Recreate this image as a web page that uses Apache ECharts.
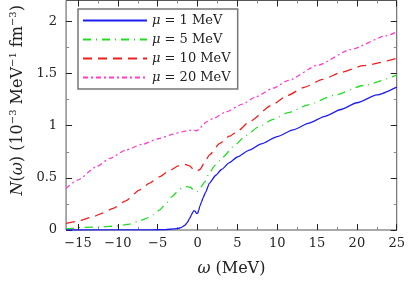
<!DOCTYPE html>
<html>
<head>
<meta charset="utf-8">
<script src="https://cdn.jsdelivr.net/npm/echarts@6/dist/echarts.min.js"></script>
<style>
html,body{margin:0;padding:0;background:#fff;}
#chart{width:408px;height:283px;}
</style>
</head>
<body>
<div id="chart"></div>
<script>
// ---- data ----
const seriesNames = ['μ = 1 MeV', 'μ = 5 MeV', 'μ = 10 MeV', 'μ = 20 MeV'];

const omega1 = [-16.5, -6, -4, -3, -2.4, -2, -1.6, -1.3, -1.0, -0.8, -0.6, -0.45, -0.3, -0.15, 0, 0.15, 0.3, 0.5, 0.7, 1.0, 1.5, 2.3, 3, 4, 5, 6.5, 8, 10, 12, 14, 16, 18, 20, 22.5, 25];
const n1     = [0, 0.001, 0.004, 0.01, 0.016, 0.026, 0.045, 0.07, 0.11, 0.14, 0.17, 0.185, 0.18, 0.16, 0.16, 0.19, 0.23, 0.27, 0.31, 0.36, 0.45, 0.525, 0.58, 0.645, 0.70, 0.766, 0.825, 0.895, 0.96, 1.025, 1.09, 1.155, 1.22, 1.295, 1.37];

const omega5 = [-16.5, -14.3, -12, -10.2, -8.5, -7.5, -6.5, -5.5, -4.8, -4, -3.2, -2.5, -2, -1.4, -0.9, -0.6, -0.3, 0, 0.4, 0.9, 1.5, 2.2, 3.2, 4.5, 6.05, 7.7, 9.5, 11.4, 13.9, 17.1, 20.8, 25];
const n5     = [0.01, 0.026, 0.03, 0.038, 0.057, 0.08, 0.11, 0.15, 0.19, 0.25, 0.32, 0.37, 0.40, 0.415, 0.41, 0.39, 0.367, 0.37, 0.41, 0.46, 0.55, 0.62, 0.70, 0.80, 0.905, 0.99, 1.06, 1.125, 1.20, 1.29, 1.385, 1.485];

const omega10 = [-16.5, -15, -13.1, -12, -10.6, -9, -7.3, -6, -4.8, -3.5, -2.4, -1.6, -1.0, -0.5, -0.1, 0.3, 0.9, 1.5, 2.8, 4, 5.2, 6.46, 9.3, 11.3, 13.4, 15.7, 18, 20.8, 25];
const n10     = [0.064, 0.085, 0.127, 0.16, 0.207, 0.28, 0.383, 0.45, 0.51, 0.57, 0.615, 0.63, 0.615, 0.58, 0.565, 0.58, 0.65, 0.72, 0.83, 0.90, 0.957, 1.037, 1.196, 1.29, 1.368, 1.443, 1.51, 1.575, 1.645];

const omega20 = [-16.5, -15, -12.7, -11, -9, -7, -4.8, -3, -2, -1, -0.6, -0.2, 0.2, 0.6, 1.1, 2, 3.5, 5.64, 7.3, 9.5, 11.4, 15.1, 19.2, 23.7, 25];
const n20     = [0.40, 0.48, 0.606, 0.686, 0.766, 0.82, 0.877, 0.92, 0.94, 0.955, 0.962, 0.95, 0.965, 1.0, 1.036, 1.07, 1.13, 1.206, 1.276, 1.36, 1.435, 1.58, 1.73, 1.862, 1.90];

const xTicks = [-15, -10, -5, 0, 5, 10, 15, 20, 25];
const xMinorTicks = [-12.5, -7.5, -2.5, 2.5, 7.5, 12.5, 17.5, 22.5];
const yTicks = [0, 0.5, 1, 1.5, 2];
const yMinorTicks = [0.25, 0.75, 1.25, 1.75];

// ---- chart ----
const FONT = 'DejaVu Serif';
function zip(xs, ys) { return xs.map((x, i) => [x, ys[i]]); }
function fmtNum(v) {
  const s = String(Math.round(v * 100) / 100);
  return v < 0 ? '−' + s.slice(1) : s;
}
const colors = ['#1c1cf0', '#22dd22', '#f02020', '#ff3fcc'];
const dashes = ['solid', [8, 5, 1, 5], [9, 6], [5, 3, 2, 3]];

function axisPair(kind, min, max, ticks, minorTicks, position, showLabels) {
  const common = { type: 'value', min: min, max: max, position: position, splitLine: { show: false } };
  const a = Object.assign({}, common, {
    axisLine: { show: false, onZero: false },
    axisTick: { show: true, inside: true, length: 6, customValues: ticks, lineStyle: { color: '#222', width: 1 } },
    axisLabel: {
      show: showLabels, margin: kind === 'x' ? 7 : 9, color: '#222', fontFamily: FONT, fontSize: 13,
      customValues: ticks,
      formatter: v => fmtNum(v)
    }
  });
  const b = Object.assign({}, common, {
    axisLine: { show: false, onZero: false },
    axisTick: { show: true, inside: true, length: 3, customValues: minorTicks, lineStyle: { color: '#888', width: 1 } },
    axisLabel: { show: false }
  });
  return [a, b];
}

const xAxes = [].concat(
  axisPair('x', -16.5, 25, xTicks, xMinorTicks, 'bottom', true),
  axisPair('x', -16.5, 25, xTicks, xMinorTicks, 'top', false)
);
xAxes[0].name = '{i|ω} (MeV)';
xAxes[0].nameLocation = 'middle';
xAxes[0].nameGap = 31;
xAxes[0].nameTextStyle = { fontFamily: FONT, fontSize: 16, color: '#222',
  rich: { i: { fontFamily: FONT, fontStyle: 'italic', fontSize: 16, color: '#222' } } };

const yAxes = [].concat(
  axisPair('y', 0, 2.2, yTicks, yMinorTicks, 'left', true),
  axisPair('y', 0, 2.2, yTicks, yMinorTicks, 'right', false)
);
yAxes[0].name = '{i|N}({i|ω}) (10{s|−3} MeV{s|−1} fm{s|−3})';
yAxes[0].nameLocation = 'middle';
yAxes[0].nameGap = 33;
yAxes[0].nameTextStyle = { fontFamily: FONT, fontSize: 16, color: '#222', padding: [0, 0, 0, 30],
  rich: {
    i: { fontFamily: FONT, fontStyle: 'italic', fontSize: 16, color: '#222' },
    s: { fontFamily: FONT, fontSize: 10, color: '#222', padding: [0, 0, 9, 0] }
  } };

const allX = [omega1, omega5, omega10, omega20];
const allY = [n1, n5, n10, n20];

const series = seriesNames.map((name, k) => ({
  name: name,
  type: 'line',
  xAxisIndex: 0,
  yAxisIndex: 0,
  data: zip(allX[k], allY[k]),
  showSymbol: false,
  symbol: 'none',
  smooth: 0.2,
  smoothMonotone: 'x',
  z: 10 - k,
  lineStyle: { color: colors[k], width: 1.3, type: dashes[k] },
  itemStyle: { color: colors[k] }
}));

const chart = echarts.init(document.getElementById('chart'), null, { renderer: 'canvas' });
chart.setOption({
  animation: false,
  backgroundColor: '#fff',
  grid: { left: 60, right: 11, top: 0.5, bottom: 53, show: true, borderColor: '#555', borderWidth: 1, backgroundColor: 'transparent' },
  xAxis: xAxes,
  yAxis: yAxes,
  legend: {
    orient: 'vertical', left: 78, top: 9,
    itemWidth: 64, itemHeight: 14, itemGap: 6,
    padding: [5, 7, 5, 4],
    borderColor: '#777', borderWidth: 1.5, backgroundColor: '#fff',
    data: seriesNames,
    itemStyle: { opacity: 0 },
    formatter: name => name.replace('μ', '{i|μ}'),
    textStyle: { fontFamily: FONT, fontSize: 13, color: '#222',
      rich: { i: { fontFamily: FONT, fontStyle: 'italic', fontSize: 13, color: '#222' } } }
  },
  series: series
});
</script>
</body>
</html>
